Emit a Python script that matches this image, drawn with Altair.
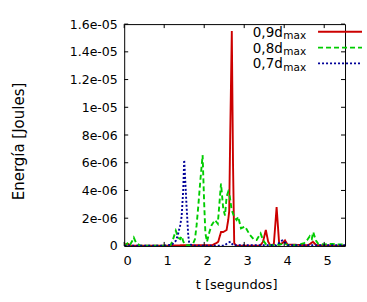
import altair as alt
import pandas as pd

# ---- data (energy values in micro-Joules, converted to Joules below) ----
t_09 = [0.0, 0.05, 0.1, 0.15, 0.5, 1.0, 1.5, 2.2, 2.3, 2.35, 2.42, 2.475, 2.56, 2.6, 2.625, 2.65, 2.69, 2.72, 2.75, 2.8,
        3.4, 3.47, 3.54, 3.6, 3.65, 3.74, 3.81, 3.875, 3.95, 4.02, 4.08, 4.6, 4.72, 4.8, 5.2, 5.6]
e_09_u = [0.0, 0.15, 0.15, 0.02, 0.02, 0.02, 0.05, 0.05, 0.2, 0.3, 1.0, 1.0, 1.15, 1.87, 2.5, 8.0, 15.5, 6.0, 0.2, 0.02,
          0.02, 0.3, 1.15, 0.3, 0.05, 0.1, 2.8, 0.1, 0.2, 0.4, 0.1, 0.05, 0.3, 0.05, 0.02, 0.02]

t_08 = [0.0, 0.05, 0.1, 0.15, 0.2, 0.24, 0.3, 0.4, 1.15, 1.2, 1.29, 1.35, 1.4, 1.435, 1.48, 1.55, 1.65, 1.72, 1.77,
        1.81, 1.85, 1.9, 1.96, 2.0, 2.03, 2.07, 2.13, 2.185, 2.27, 2.34, 2.42, 2.475, 2.52, 2.56, 2.6, 2.64, 2.685,
        2.75, 2.81, 2.85, 2.92, 3.02, 3.14, 3.25, 3.31, 3.41, 3.475, 3.55, 3.7, 3.9, 4.0, 4.1, 4.3, 4.5, 4.575, 4.64,
        4.69, 4.725, 4.79, 4.85, 5.0, 5.2, 5.3, 5.6]
e_08_u = [0.0, 0.1, 0.25, 0.1, 0.35, 0.6, 0.2, 0.02, 0.02, 0.3, 1.1, 0.6, 0.5, 0.7, 0.3, 0.05, 0.05, 0.15, 0.5,
          1.5, 2.8, 4.6, 6.55, 3.0, 0.9, 0.3, 1.0, 1.5, 1.87, 1.6, 4.5, 2.7, 2.2, 3.55, 3.9, 3.55, 2.6,
          2.1, 1.87, 2.1, 1.27, 1.4, 0.8, 0.43, 0.43, 0.9, 0.4, 0.1, 0.05, 0.1, 0.2, 0.05, 0.05, 0.2, 0.43, 0.7,
          0.5, 1.0, 0.4, 0.15, 0.1, 0.15, 0.1, 0.1]

t_07 = [0.0, 1.0, 1.2, 1.3, 1.35, 1.4, 1.435, 1.475, 1.5, 1.53, 1.56, 1.6, 1.625, 1.7, 2.5, 2.6, 2.66, 2.72, 3.8,
        3.95, 4.0, 4.1, 5.6]
e_07_u = [0.02, 0.02, 0.1, 0.4, 0.9, 1.5, 2.1, 4.0, 6.2, 4.5, 2.8, 0.8, 0.2, 0.02, 0.02, 0.25, 0.3, 0.05, 0.05,
          0.4, 0.3, 0.05, 0.05]

series_names = ["0,9d", "0,8d", "0,7d"]
series_sub = ["max", "max", "max"]
series_colors = ["#cc0000", "#00cc00", "#000099"]
series_dash = [[1, 0], [5, 3], [2, 2]]

x_ticks = [0, 1, 2, 3, 4, 5]
y_ticks = [0, 2e-6, 4e-6, 6e-6, 8e-6, 1e-5, 1.2e-5, 1.4e-5, 1.6e-5]
y_tick_labels = ["0", "2e-06", "4e-06", "6e-06", "8e-06", "1e-05", "1.2e-05", "1.4e-05", "1.6e-05"]
x_domain = [0, 5.52]
y_domain = [0, 1.6e-5]

FONT = "DejaVu Sans"
W, H = 221, 222

xs = alt.Scale(domain=x_domain, nice=False, zero=False)
ys = alt.Scale(domain=y_domain, nice=False)

series = [
    (t_09, [v * 1e-6 for v in e_09_u]),
    (t_08, [v * 1e-6 for v in e_08_u]),
    (t_07, [v * 1e-6 for v in e_07_u]),
]

label_expr = "[" + ",".join("'%s'" % s for s in y_tick_labels) + "][round(datum.value/2e-6)]"

X_AXIS = alt.Axis(values=x_ticks, ticks=False, tickSize=0, domain=False, grid=False,
                  labelFont=FONT, labelFontSize=13, labelColor="black", labelPadding=9,
                  labelOffset=3, labelFlush=False, format="d",
                  titleFont=FONT, titleFontSize=13, titleFontWeight="normal", titleColor="black",
                  titleX=112, titleY=39, titleBaseline="middle")
Y_AXIS = alt.Axis(values=y_ticks, ticks=False, tickSize=0, domain=False, grid=False,
                  labelFont=FONT, labelFontSize=12.5, labelColor="black", labelPadding=7,
                  labelFlush=False, labelExpr=label_expr,
                  titleFont=FONT, titleFontSize=15, titleFontWeight="normal", titleColor="black",
                  titleX=-106, titleY=117, titleAngle=270, titleBaseline="middle",
                  titleAlign="center")


def X():
    return alt.X("t:Q", scale=xs, title="t [segundos]", axis=X_AXIS)


def Y():
    return alt.Y("E:Q", scale=ys, title="Energía [Joules]", axis=Y_AXIS)


layers = []

# data lines
for (tv, ev), col, dash in zip(series, series_colors, series_dash):
    df = pd.DataFrame({"t": tv, "E": ev})
    layers.append(alt.Chart(df).mark_line(color=col, strokeWidth=1.9, strokeDash=dash, clip=True).encode(
        x=X(), y=Y()))

# inward ticks on all four sides
df_xt = pd.DataFrame({"t": x_ticks})
df_yt = pd.DataFrame({"E": y_ticks})
for y0, y1 in [(H, H - 4), (0, 4)]:
    layers.append(alt.Chart(df_xt).mark_rule(color="black", strokeWidth=1).encode(
        x=X(), y=alt.value(y0), y2=alt.value(y1)))
for x0, x1 in [(0, 4), (W, W - 4)]:
    layers.append(alt.Chart(df_yt).mark_rule(color="black", strokeWidth=1).encode(
        y=Y(), x=alt.value(x0), x2=alt.value(x1)))

# legend (top right)
row_y = [7.7, 23.5, 39.3]
for name, sub, col, dash, ry in zip(series_names, series_sub, series_colors, series_dash, row_y):
    layers.append(alt.Chart(pd.DataFrame({"a": [0]})).mark_text(
        text=name, font=FONT, fontSize=13.5, align="right", baseline="alphabetic", color="black").encode(
        x=alt.value(158.7), y=alt.value(ry + 5)))
    layers.append(alt.Chart(pd.DataFrame({"a": [0]})).mark_text(
        text=sub, font=FONT, fontSize=10.5, align="left", baseline="alphabetic", color="black").encode(
        x=alt.value(159.3), y=alt.value(ry + 7.5)))
    layers.append(alt.Chart(pd.DataFrame({"a": [0]})).mark_rule(
        color=col, strokeWidth=1.9, strokeDash=dash).encode(
        x=alt.value(194), x2=alt.value(238), y=alt.value(ry)))

chart = alt.layer(*layers).properties(
    width=W, height=H,
    autosize=alt.AutoSizeParams(type="none"),
    padding={"left": 124.3, "top": 24, "right": 22, "bottom": 56},
    background="white",
).configure_view(stroke="black", strokeWidth=1)

chart.save("out.html", embed_options={"renderer": "svg", "actions": False})
